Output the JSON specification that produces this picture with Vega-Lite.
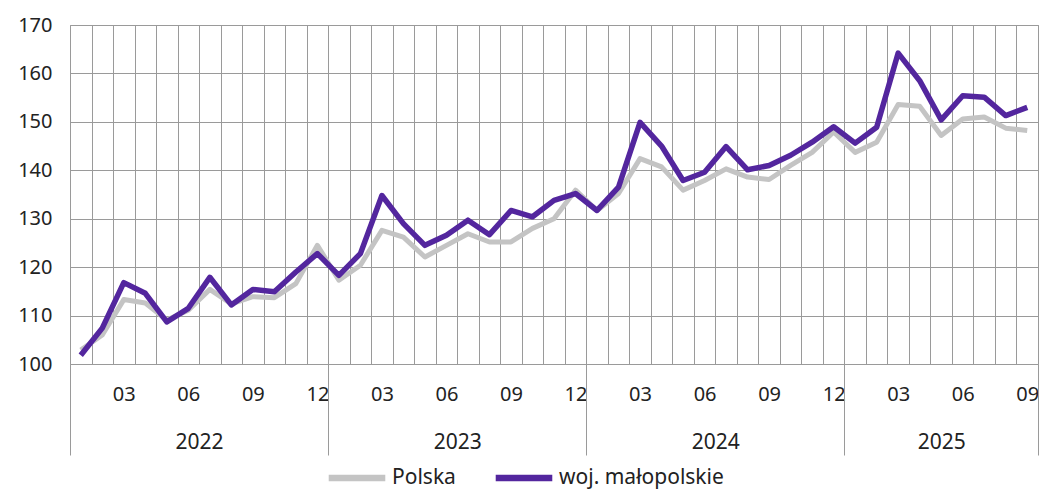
{
  "$schema": "https://vega.github.io/schema/vega-lite/v6.json",
  "width": 968,
  "height": 339,
  "autosize": {"type": "none"},
  "padding": {"left": 70, "top": 25, "right": 1, "bottom": 129},
  "background": "white",
  "config": {
    "font": "Noto Sans",
    "view": {"stroke": "#9a9a9a", "strokeWidth": 1},
    "axis": {"labelFont": "Noto Sans", "labelColor": "#222222", "labelFontSize": 20, "title": null}
  },
  "data": {
    "values": [
      {"t": 1, "series": "Polska", "value": 102.9}, {"t": 1, "series": "woj. małopolskie", "value": 101.8},
      {"t": 2, "series": "Polska", "value": 106.0}, {"t": 2, "series": "woj. małopolskie", "value": 107.4},
      {"t": 3, "series": "Polska", "value": 113.3}, {"t": 3, "series": "woj. małopolskie", "value": 116.8},
      {"t": 4, "series": "Polska", "value": 112.6}, {"t": 4, "series": "woj. małopolskie", "value": 114.6},
      {"t": 5, "series": "Polska", "value": 109.1}, {"t": 5, "series": "woj. małopolskie", "value": 108.7},
      {"t": 6, "series": "Polska", "value": 111.1}, {"t": 6, "series": "woj. małopolskie", "value": 111.5},
      {"t": 7, "series": "Polska", "value": 115.4}, {"t": 7, "series": "woj. małopolskie", "value": 117.9},
      {"t": 8, "series": "Polska", "value": 112.4}, {"t": 8, "series": "woj. małopolskie", "value": 112.2},
      {"t": 9, "series": "Polska", "value": 113.9}, {"t": 9, "series": "woj. małopolskie", "value": 115.4},
      {"t": 10, "series": "Polska", "value": 113.7}, {"t": 10, "series": "woj. małopolskie", "value": 114.9},
      {"t": 11, "series": "Polska", "value": 116.6}, {"t": 11, "series": "woj. małopolskie", "value": 119.0},
      {"t": 12, "series": "Polska", "value": 124.5}, {"t": 12, "series": "woj. małopolskie", "value": 122.8},
      {"t": 13, "series": "Polska", "value": 117.3}, {"t": 13, "series": "woj. małopolskie", "value": 118.3},
      {"t": 14, "series": "Polska", "value": 120.4}, {"t": 14, "series": "woj. małopolskie", "value": 122.8},
      {"t": 15, "series": "Polska", "value": 127.6}, {"t": 15, "series": "woj. małopolskie", "value": 134.8},
      {"t": 16, "series": "Polska", "value": 126.2}, {"t": 16, "series": "woj. małopolskie", "value": 129.0},
      {"t": 17, "series": "Polska", "value": 122.1}, {"t": 17, "series": "woj. małopolskie", "value": 124.5},
      {"t": 18, "series": "Polska", "value": 124.5}, {"t": 18, "series": "woj. małopolskie", "value": 126.6},
      {"t": 19, "series": "Polska", "value": 126.9}, {"t": 19, "series": "woj. małopolskie", "value": 129.7},
      {"t": 20, "series": "Polska", "value": 125.2}, {"t": 20, "series": "woj. małopolskie", "value": 126.7},
      {"t": 21, "series": "Polska", "value": 125.2}, {"t": 21, "series": "woj. małopolskie", "value": 131.7},
      {"t": 22, "series": "Polska", "value": 128.0}, {"t": 22, "series": "woj. małopolskie", "value": 130.4},
      {"t": 23, "series": "Polska", "value": 130.0}, {"t": 23, "series": "woj. małopolskie", "value": 133.8},
      {"t": 24, "series": "Polska", "value": 135.9}, {"t": 24, "series": "woj. małopolskie", "value": 135.2},
      {"t": 25, "series": "Polska", "value": 131.7}, {"t": 25, "series": "woj. małopolskie", "value": 131.7},
      {"t": 26, "series": "Polska", "value": 135.2}, {"t": 26, "series": "woj. małopolskie", "value": 136.5},
      {"t": 27, "series": "Polska", "value": 142.4}, {"t": 27, "series": "woj. małopolskie", "value": 149.9},
      {"t": 28, "series": "Polska", "value": 140.7}, {"t": 28, "series": "woj. małopolskie", "value": 145.0},
      {"t": 29, "series": "Polska", "value": 135.9}, {"t": 29, "series": "woj. małopolskie", "value": 137.9},
      {"t": 30, "series": "Polska", "value": 137.9}, {"t": 30, "series": "woj. małopolskie", "value": 139.6},
      {"t": 31, "series": "Polska", "value": 140.3}, {"t": 31, "series": "woj. małopolskie", "value": 144.9},
      {"t": 32, "series": "Polska", "value": 138.6}, {"t": 32, "series": "woj. małopolskie", "value": 140.1},
      {"t": 33, "series": "Polska", "value": 138.1}, {"t": 33, "series": "woj. małopolskie", "value": 141.0},
      {"t": 34, "series": "Polska", "value": 141.0}, {"t": 34, "series": "woj. małopolskie", "value": 143.1},
      {"t": 35, "series": "Polska", "value": 143.7}, {"t": 35, "series": "woj. małopolskie", "value": 145.8},
      {"t": 36, "series": "Polska", "value": 147.9}, {"t": 36, "series": "woj. małopolskie", "value": 149.0},
      {"t": 37, "series": "Polska", "value": 143.7}, {"t": 37, "series": "woj. małopolskie", "value": 145.6},
      {"t": 38, "series": "Polska", "value": 145.8}, {"t": 38, "series": "woj. małopolskie", "value": 148.9},
      {"t": 39, "series": "Polska", "value": 153.6}, {"t": 39, "series": "woj. małopolskie", "value": 164.2},
      {"t": 40, "series": "Polska", "value": 153.2}, {"t": 40, "series": "woj. małopolskie", "value": 158.5},
      {"t": 41, "series": "Polska", "value": 147.2}, {"t": 41, "series": "woj. małopolskie", "value": 150.4},
      {"t": 42, "series": "Polska", "value": 150.6}, {"t": 42, "series": "woj. małopolskie", "value": 155.4},
      {"t": 43, "series": "Polska", "value": 151.0}, {"t": 43, "series": "woj. małopolskie", "value": 155.1},
      {"t": 44, "series": "Polska", "value": 148.7}, {"t": 44, "series": "woj. małopolskie", "value": 151.3},
      {"t": 45, "series": "Polska", "value": 148.2}, {"t": 45, "series": "woj. małopolskie", "value": 153.0}
    ]
  },
  "encoding": {
    "y": {
      "field": "value",
      "type": "quantitative",
      "scale": {"domain": [100, 170], "nice": false, "zero": false},
      "axis": {
        "values": [100, 110, 120, 130, 140, 150, 160, 170],
        "grid": true,
        "gridColor": "#9a9a9a",
        "gridWidth": 1,
        "ticks": false,
        "domain": false,
        "labelPadding": 18
      }
    },
    "color": {
      "field": "series",
      "type": "nominal",
      "scale": {"domain": ["Polska", "woj. małopolskie"], "range": ["#c4c4c4", "#53269e"]},
      "legend": {
        "title": null,
        "orient": "none",
        "legendX": 255,
        "legendY": 421,
        "direction": "horizontal",
        "symbolType": "stroke",
        "symbolSize": 3200,
        "symbolStrokeWidth": 6.5,
        "labelFontSize": 21,
        "labelColor": "#222222",
        "labelFont": "Noto Sans",
        "labelLimit": 400,
        "labelOffset": 3,
        "columnPadding": 26
      }
    }
  },
  "layer": [
    {
      "transform": [{"filter": "datum.series == 'Polska'"}],
      "mark": {"type": "line", "strokeWidth": 5, "strokeJoin": "round"},
      "encoding": {
        "x": {
          "field": "t",
          "type": "ordinal",
          "scale": {"type": "band", "paddingInner": 0, "paddingOuter": 0},
          "axis": {
            "tickBand": "extent",
            "grid": true,
            "gridColor": "#9a9a9a",
            "gridWidth": 1,
            "ticks": false,
            "domain": false,
            "labelAngle": 0,
            "labelPadding": 20,
            "labelExpr": "datum.value % 3 == 0 ? (((datum.value - 1) % 12) + 1 < 10 ? '0' : '') + (((datum.value - 1) % 12) + 1) : ''"
          }
        }
      }
    },
    {
      "transform": [{"filter": "datum.series == 'woj. małopolskie'"}],
      "mark": {"type": "line", "strokeWidth": 5.5, "strokeJoin": "round"},
      "encoding": {
        "x": {
          "field": "t",
          "type": "quantitative",
          "scale": {"domain": [0.5, 45.5], "nice": false, "zero": false},
          "axis": {
            "orient": "bottom",
            "values": [0.5, 6.5, 12.5, 18.5, 24.5, 30.5, 36.5, 41, 45.5],
            "grid": false,
            "domain": false,
            "ticks": true,
            "tickSize": 91,
            "tickColor": "#9a9a9a",
            "tickWidth": 1,
            "tickOpacity": {"condition": {"test": "datum.value == 0.5 || datum.value == 12.5 || datum.value == 24.5 || datum.value == 36.5 || datum.value == 45.5", "value": 1}, "value": 0},
            "labelPadding": -24,
            "labelFontSize": 21,
            "labelBound": false,
            "labelOverlap": false,
            "labelFlush": false,
            "labelExpr": "datum.value == 6.5 ? '2022' : datum.value == 18.5 ? '2023' : datum.value == 30.5 ? '2024' : datum.value == 41 ? '2025' : ''"
          }
        }
      }
    }
  ],
  "resolve": {"scale": {"x": "independent"}, "axis": {"x": "independent"}}
}
